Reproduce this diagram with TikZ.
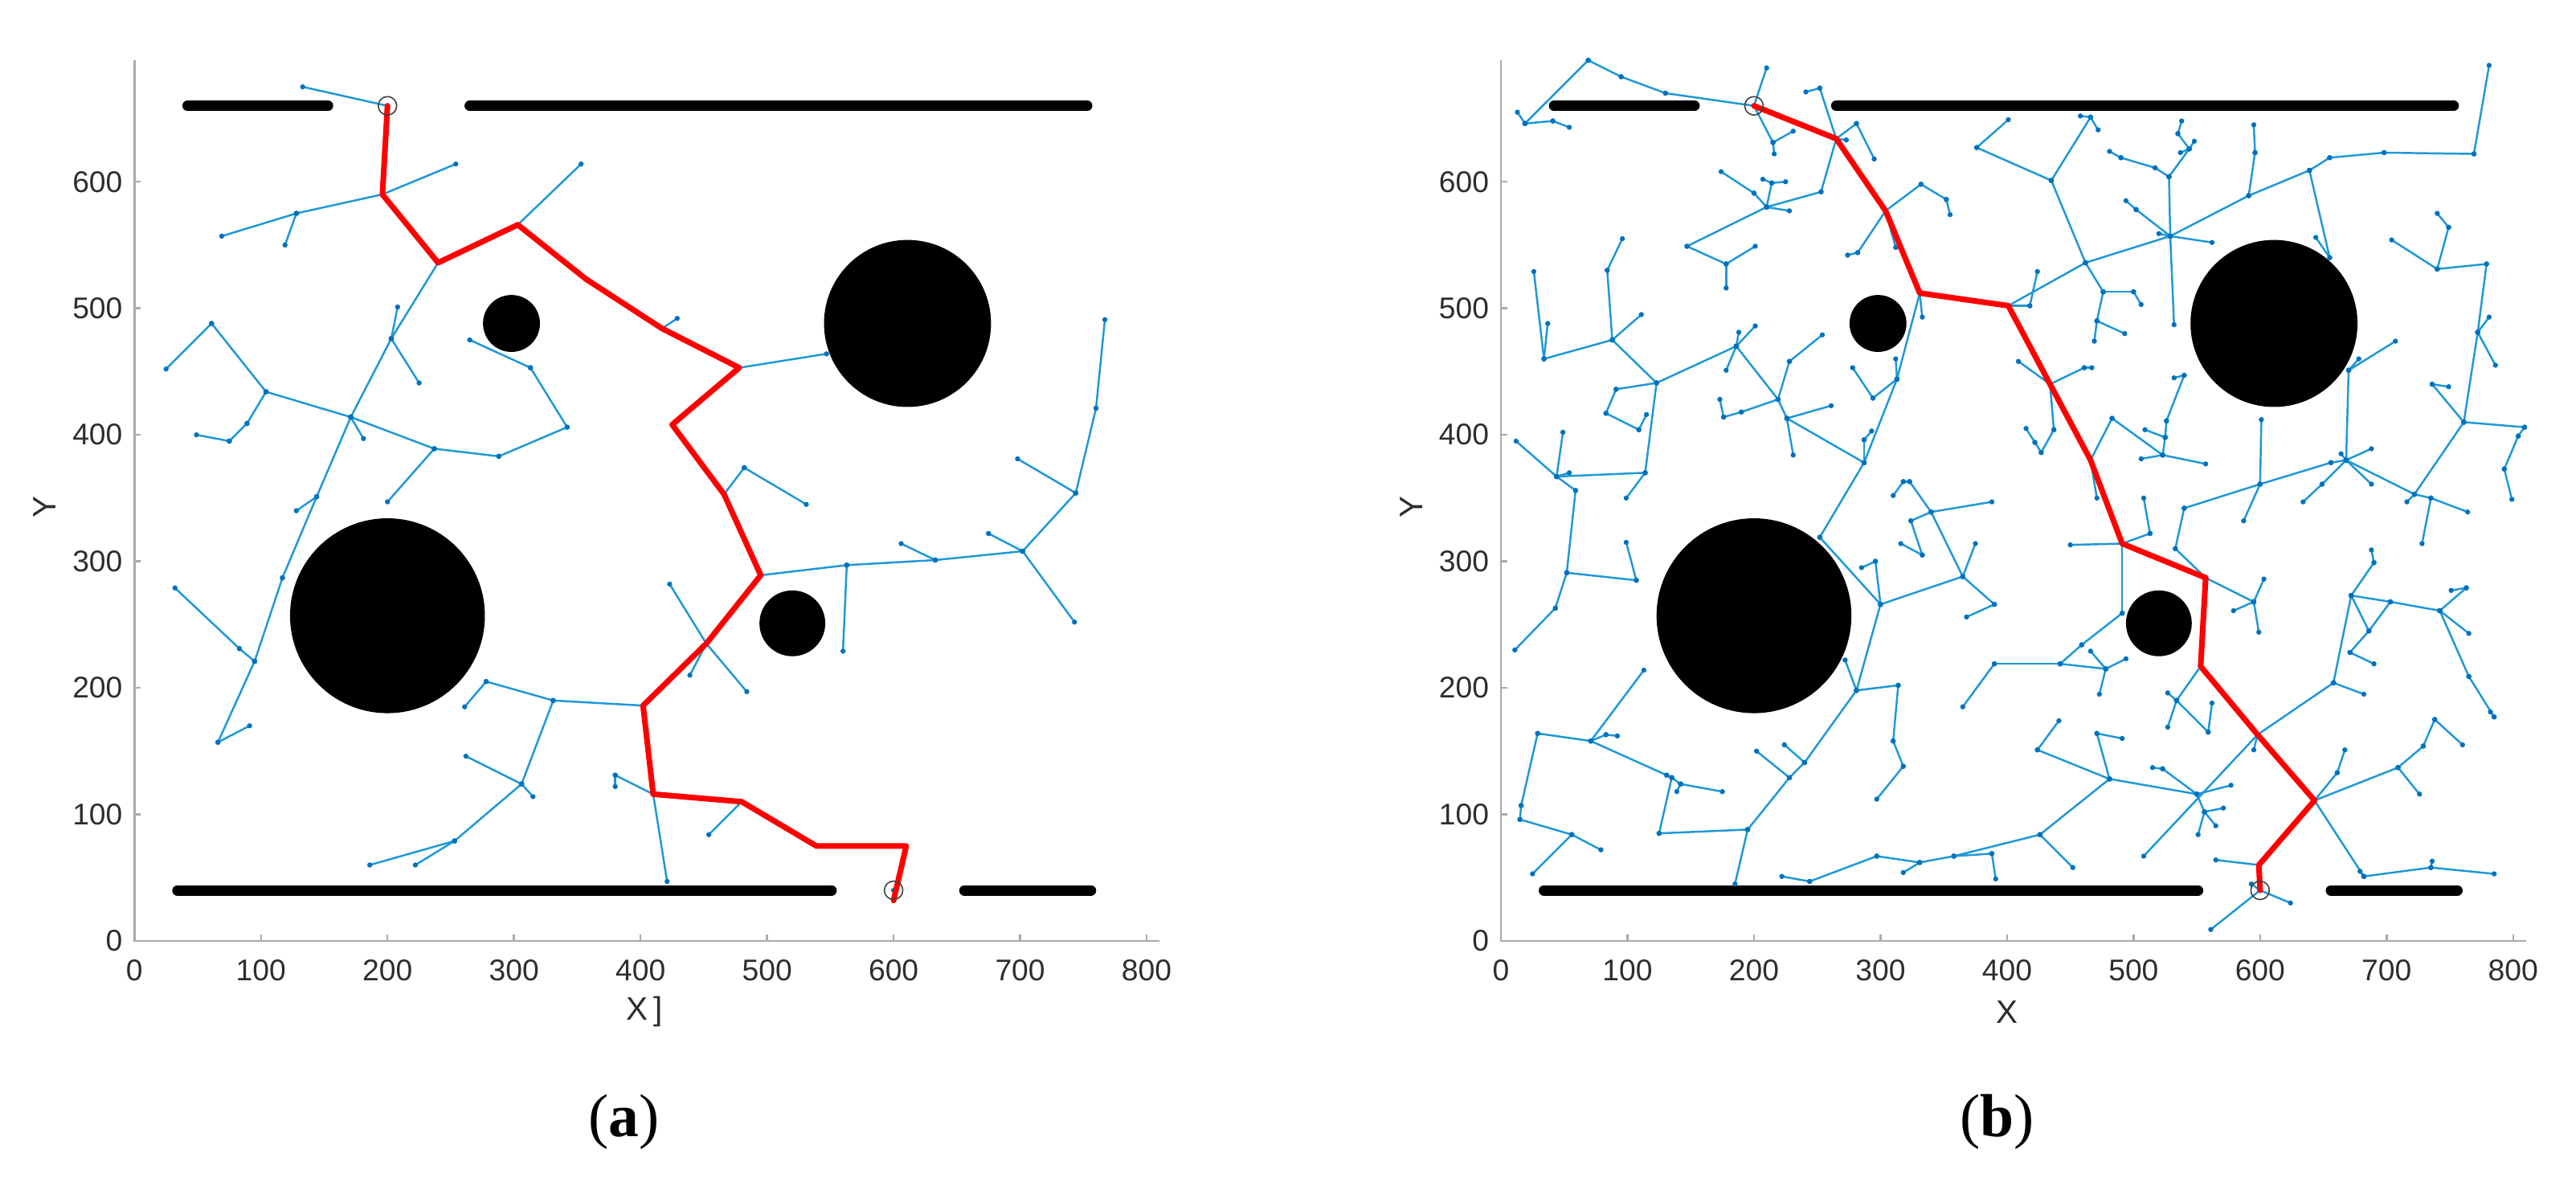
\documentclass[tikz,border=0pt]{standalone}
\usepackage{fontspec}
\setmainfont{Liberation Serif}
\newfontfamily\axfont{Liberation Sans}
\definecolor{edgeblue}{RGB}{30,152,215}
\definecolor{dotblue}{RGB}{0,114,189}
\definecolor{axgray}{RGB}{170,170,170}
\definecolor{txtgray}{RGB}{45,45,45}
\tikzset{
  edge/.style={edgeblue,line width=0.7pt},
  dotc/.style={fill=dotblue},
  redpath/.style={red,line width=2pt,line join=round,line cap=round},
  wall/.style={black,line width=3.7pt,line cap=round},
  obst/.style={fill=black},
  endmark/.style={draw=black!75,line width=0.45pt},
  axisline/.style={axgray,line width=0.7pt},
  ticklab/.style={font=\axfont\fontsize{10.6pt}{12pt}\selectfont,text=txtgray,inner sep=0pt},
  axlab/.style={font=\axfont\fontsize{11.5pt}{13pt}\selectfont,text=txtgray,inner sep=0pt},
  sublab/.style={font=\fontsize{21.5pt}{24pt}\selectfont,inner sep=0pt}
}
\newcommand\drawaxes[1]{%
  \draw[axisline] (0,696) -- (0,0) -- (810,0);
  \foreach \t in {100,200,...,800} \draw[axisline] (\t,0) -- (\t,5);
  \foreach \t in {100,200,...,600} \draw[axisline] (0,\t) -- (5,\t);
  \foreach \t in {0,100,...,800} \node[ticklab] (#1x\t) at (\t,-23) {\t};
  \foreach \t in {0,100,...,600} \node[ticklab,anchor=east] (#1y\t) at (-9,\t) {\t};
  \node[axlab,rotate=90] (#1ylab) at (-71,343) {Y};
}
\newcommand\drawworld{%
  \fill[obst] (200,257) circle[radius=77];
  \fill[obst] (611,488) circle[radius=66];
  \fill[obst] (298,488) circle[radius=22.5];
  \fill[obst] (520,251) circle[radius=26];
  \draw[wall] (42,660) -- (153,660);
  \draw[wall] (265,660) -- (753,660);
  \draw[wall] (34,40) -- (551,40);
  \draw[wall] (656,40) -- (756,40);
}
\def\treeA{200/660/133/675, 196/590/254/614, 196/590/128/575, 128/575/69/557, 128/575/119/550,
303/566/353/614, 240/536/203/476, 203/476/208/501, 203/476/225/441, 203/476/171/414,
171/414/181/397, 171/414/104/434, 104/434/61/488, 61/488/25/452, 104/434/89/409, 89/409/75/395, 75/395/49/400,
171/414/237/389, 237/389/200/347, 237/389/288/383, 288/383/342/406, 342/406/313/453, 313/453/265/475,
171/414/144/351, 144/351/128/340, 144/351/117/287, 117/287/95/221, 95/221/83/231, 83/231/32/279, 95/221/66/157, 66/157/91/170,
417/484/429/492, 478/453/547/464, 466/353/482/374, 482/374/531/345,
495/289/563/297, 563/297/560/229, 563/297/633/301, 633/301/606/314, 633/301/702/308, 702/308/675/322, 702/308/743/252, 702/308/744/354, 744/354/698/381, 744/354/760/421, 760/421/767/491,
452/235/423/282, 452/235/484/197, 452/235/439/210, 480/110/454/84,
410/116/421/47, 410/116/380/131, 380/131/380/122,
402/186/331/190, 331/190/278/205, 278/205/261/185, 331/190/306/124, 306/124/262/146, 306/124/315/114, 306/124/253/79, 253/79/186/60, 253/79/222/60}
\def\treeB{200/660/130/670, 130/670/95/683, 95/683/69/696, 69/696/19/646, 19/646/13/655, 19/646/41/648, 41/648/54/643,
200/660/210/690, 200/660/215/631, 215/631/231/640, 215/631/216/622,
241/671/252/674, 252/674/265/634, 265/634/253/592, 253/592/210/580,
174/608/200/591, 200/591/210/580, 210/580/214/599, 214/599/207/602, 214/599/225/600, 210/580/228/577,
210/580/147/549, 147/549/178/535, 178/535/201/549, 178/535/178/516,
26/529/34/460, 37/488/34/460, 34/460/88/475, 88/475/84/530, 84/530/96/555, 88/475/111/495, 88/475/123/441,
123/441/186/470, 186/470/188/481, 186/470/201/486, 186/470/178/451, 186/470/219/428, 219/428/190/418, 190/418/176/414, 176/414/173/428,
219/428/226/413, 226/413/231/384, 226/413/287/378, 226/413/261/423, 219/428/228/458, 228/458/254/479,
123/441/91/436, 91/436/83/417, 83/417/109/404, 109/404/115/416,
123/441/114/370, 114/370/99/350, 114/370/44/367, 44/367/12/395, 44/367/49/402, 44/367/54/370, 44/367/59/356, 59/356/52/291,
52/291/107/285, 107/285/99/315, 52/291/43/263, 43/263/11/230,
29/164/71/158, 71/158/113/214, 71/158/83/163, 83/163/92/162, 71/158/131/131, 131/131/135/129, 135/129/142/124, 142/124/175/118, 142/124/139/118,
135/129/125/85, 125/85/195/88, 195/88/185/45, 195/88/228/129, 228/129/202/150, 228/129/240/141, 240/141/224/155, 240/141/281/198,
29/164/16/107, 16/107/15/96, 15/96/56/84, 56/84/79/72, 56/84/25/53,
222/51/244/47, 244/47/297/67, 297/67/331/62, 331/62/318/54, 331/62/358/67, 358/67/388/69, 388/69/391/49, 358/67/426/84, 426/84/452/58,
426/84/481/128, 481/128/424/151, 424/151/441/174, 481/128/471/164, 471/164/491/160, 481/128/550/116,
265/634/281/646, 281/646/295/618, 265/634/273/633,
304/577/332/598, 332/598/352/586, 352/586/355/574, 304/577/282/544, 282/544/274/542, 304/577/312/548,
331/512/333/493, 331/512/313/444, 313/444/287/378, 313/444/312/460, 313/444/294/429, 294/429/278/453, 287/378/287/396, 287/396/293/403,
287/378/252/319, 252/319/300/266,
310/352/318/363, 318/363/323/363, 323/363/340/339, 340/339/388/347, 340/339/324/332, 340/339/365/288,
401/502/418/502, 418/502/424/529, 401/502/462/536, 462/536/435/601, 435/601/376/627, 376/627/401/649, 435/601/466/651, 466/651/458/652, 466/651/472/641,
462/536/529/557, 529/557/532/487, 529/557/502/578, 502/578/494/585, 529/557/520/559, 529/557/528/604, 528/604/517/611, 517/611/490/619, 490/619/481/624,
528/604/544/626, 544/626/535/638, 535/638/538/648, 544/626/548/632, 544/626/537/623,
462/536/476/513, 476/513/500/513, 500/513/506/503, 476/513/471/490, 471/490/493/480, 471/490/469/474,
434/440/409/458, 434/440/461/453, 461/453/467/453, 434/440/437/404, 437/404/427/386, 427/386/422/394, 422/394/415/405,
466/380/483/413, 483/413/523/384, 523/384/506/381, 523/384/525/398, 525/398/509/404, 525/398/526/411, 526/411/540/447, 540/447/532/445, 523/384/557/377,
466/380/471/350, 508/350/513/322,
529/557/591/589, 591/589/639/609, 639/609/655/619, 655/619/698/623, 698/623/769/622, 769/622/781/692,
591/589/596/623, 596/623/595/645, 639/609/655/540, 655/540/644/556, 529/557/562/552,
740/575/749/564, 749/564/740/531, 740/531/704/554, 740/531/779/535, 779/535/772/481, 772/481/781/493, 772/481/786/455, 772/481/761/410,
761/410/736/440, 736/440/749/438, 761/410/809/406, 809/406/804/399, 804/399/793/373, 793/373/799/349,
761/410/722/353, 722/353/716/347, 722/353/735/350, 735/350/764/339, 735/350/728/314,
722/353/668/380, 668/380/670/451, 670/451/707/474, 670/451/678/460, 668/380/688/389, 668/380/664/385, 668/380/656/378, 668/380/688/361, 668/380/649/361, 649/361/634/347,
656/378/600/361, 600/361/601/412, 600/361/587/332, 600/361/540/342, 540/342/533/310,
491/314/450/313, 491/314/513/322, 491/314/491/259, 491/259/459/234, 459/234/442/219, 442/219/390/219, 390/219/365/185,
442/219/478/215, 478/215/466/229, 478/215/494/223, 478/215/473/195,
300/266/296/300, 296/300/285/295, 300/266/365/288, 365/288/375/314, 365/288/390/266, 390/266/368/256,
324/332/333/305, 333/305/316/314,
300/266/281/198, 281/198/272/222, 281/198/314/202, 314/202/310/158, 310/158/318/138, 318/138/297/112,
515/137/523/136, 523/136/550/116, 527/196/534/190, 534/190/527/169, 508/67/598/163,
557/287/533/310, 557/287/595/268, 595/268/603/286, 595/268/579/261, 595/268/599/244,
553/217/534/190, 534/190/559/165, 559/165/562/188, 598/163/595/151, 598/163/658/204,
643/111/661/133, 661/133/667/151, 643/111/709/137, 709/137/726/116, 709/137/729/154, 729/154/738/175, 738/175/760/155,
643/111/682/51, 682/51/679/55, 682/51/735/58, 735/58/736/63, 735/58/785/53,
658/204/682/195, 658/204/672/273, 672/273/690/299, 690/299/688/309, 672/273/703/268, 703/268/686/245, 672/273/686/245, 686/245/671/228, 671/228/690/219,
703/268/742/261, 742/261/763/279, 763/279/751/277, 742/261/765/243, 742/261/765/209, 765/209/785/177, 785/177/782/181,
550/116/577/123, 550/116/556/102, 556/102/571/105, 556/102/565/91, 556/102/551/84,
599/60/565/64, 600/40/624/30, 600/40/561/9, 600/40/593/45}
\newcommand\drawtree[1]{%
  \foreach \xa/\ya/\xb/\yb in #1 {\draw[edge] (\xa,\ya) -- (\xb,\yb);}
  \foreach \xa/\ya/\xb/\yb in #1 {\fill[dotc] (\xa,\ya) circle[radius=0.032cm] (\xb,\yb) circle[radius=0.032cm];}
}
\begin{document}
\begin{tikzpicture}
\useasboundingbox (0,0) rectangle (32.06,-14.81);
\fill[white] (0,0) rectangle (32.06,-14.81);
% ---------- panel (a) ----------
\begin{scope}[shift={(1.673,-11.71)},x=0.01575cm,y=0.01575cm]
  \drawaxes{a}
  \node[axlab] (axlab) at (403,-56) {X\,]};
  \drawworld
  \drawtree{\treeA}
  \fill[dotc] (600,40) circle[radius=0.032cm];
  \draw[redpath] (200,660) -- (196,590) -- (240,536) -- (303,566) -- (357,523) -- (417,484) -- (478,453) -- (425,408) -- (466,353) -- (495,289) -- (452,235) -- (402,186) -- (410,116) -- (480,110) -- (539,75) -- (610,75) -- (600,32);
  \draw[endmark] (200,660) circle[radius=0.115cm];
  \draw[endmark] (600,40) circle[radius=0.115cm];
  \node[sublab] (capa) at (387,-143) {(\textbf{a})};
\end{scope}
% ---------- panel (b) ----------
\begin{scope}[shift={(18.68,-11.71)},x=0.01575cm,y=0.01575cm]
  \drawaxes{b}
  \node[axlab] (bxlab) at (400,-56) {X};
  \drawworld
  \drawtree{\treeB}
  \draw[redpath] (200,660) -- (265,634) -- (304,577) -- (331,512) -- (401,502) -- (434,440) -- (466,380) -- (491,314) -- (557,287) -- (553,217) -- (598,163) -- (643,111) -- (599,60) -- (600,40);
  \draw[endmark] (200,660) circle[radius=0.115cm];
  \draw[endmark] (600,40) circle[radius=0.115cm];
  \node[sublab] (capb) at (392,-143) {(\textbf{b})};
\end{scope}
\end{tikzpicture}
\end{document}
